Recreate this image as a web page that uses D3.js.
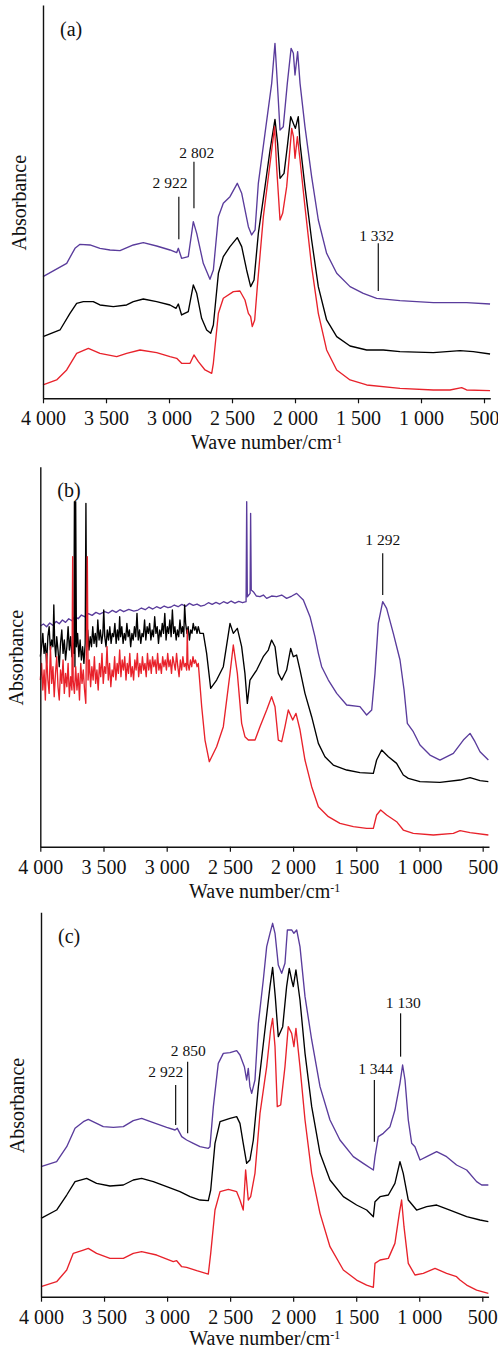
<!DOCTYPE html>
<html>
<head>
<meta charset="utf-8">
<script src="https://cdn.jsdelivr.net/npm/d3@7"></script>
<style>
  html, body { margin: 0; padding: 0; background: #fff; }
  svg { display: block; }
  text { font-family: 'Liberation Serif', 'Times New Roman', serif; fill: #111; }
</style>
</head>
<body>
<svg id="chart" width="498" height="1349"></svg>
<script>
// ---- data: [wave number (cm-1), absorbance (a.u.)] ----

var waveTicks = [4000, 3500, 3000, 2500, 2000, 1500, 1000, 500];
var panelLabels = ['(a)', '(b)', '(c)'];

// (a)
var aPurple = [[4000,0.365],[3812,0.405],[3746,0.45],[3706,0.462],[3627,0.46],[3548,0.45],[3468,0.445],[3389,0.443],[3283,0.46],[3204,0.467],[3098,0.457],[2992,0.445],[2939,0.437],[2926,0.45],[2900,0.42],[2847,0.425],[2807,0.53],[2780,0.495],[2728,0.405],[2675,0.357],[2648,0.385],[2608,0.545],[2569,0.585],[2516,0.605],[2458,0.645],[2423,0.615],[2370,0.515],[2344,0.49],[2317,0.505],[2291,0.645],[2238,0.795],[2185,0.945],[2159,1.065],[2140,0.945],[2119,0.805],[2093,0.815],[2061,0.945],[2031,1.05],[2013,1.035],[2000,0.97],[1979,1.04],[1960,0.945],[1921,0.815],[1868,0.665],[1815,0.535],[1749,0.435],[1669,0.375],[1563,0.335],[1458,0.315],[1352,0.3],[1167,0.293],[902,0.287],[638,0.287],[452,0.283]];
var aBlack = [[4000,0.185],[3865,0.205],[3786,0.255],[3733,0.285],[3680,0.29],[3601,0.29],[3548,0.28],[3442,0.275],[3336,0.28],[3283,0.29],[3204,0.298],[3098,0.29],[2992,0.28],[2944,0.27],[2926,0.283],[2900,0.25],[2847,0.26],[2807,0.34],[2780,0.315],[2741,0.24],[2701,0.205],[2669,0.195],[2648,0.22],[2608,0.375],[2569,0.425],[2516,0.455],[2458,0.482],[2423,0.455],[2384,0.385],[2352,0.335],[2325,0.355],[2291,0.495],[2238,0.635],[2198,0.745],[2159,0.837],[2138,0.765],[2119,0.66],[2087,0.675],[2061,0.755],[2034,0.845],[2008,0.82],[1997,0.81],[1974,0.845],[1960,0.765],[1921,0.635],[1868,0.475],[1815,0.335],[1749,0.235],[1669,0.185],[1563,0.157],[1431,0.145],[1299,0.145],[1167,0.14],[902,0.137],[690,0.143],[585,0.14],[452,0.133]];
var aRed = [[4000,0.04],[3892,0.055],[3812,0.085],[3733,0.135],[3640,0.15],[3548,0.135],[3415,0.125],[3336,0.135],[3230,0.145],[3098,0.137],[2992,0.125],[2939,0.12],[2900,0.105],[2833,0.105],[2802,0.13],[2767,0.11],[2714,0.085],[2661,0.075],[2648,0.105],[2608,0.255],[2569,0.3],[2489,0.32],[2437,0.322],[2397,0.295],[2370,0.255],[2352,0.245],[2339,0.215],[2320,0.235],[2299,0.335],[2251,0.545],[2198,0.705],[2162,0.815],[2146,0.695],[2119,0.535],[2098,0.555],[2066,0.635],[2026,0.81],[2012,0.785],[2000,0.72],[1981,0.785],[1960,0.715],[1921,0.575],[1868,0.395],[1815,0.255],[1749,0.145],[1669,0.085],[1563,0.055],[1431,0.04],[1167,0.03],[902,0.025],[770,0.025],[677,0.032],[638,0.025],[452,0.023]];
var aMarks = [
  { label: '2 922', at: 2922, low: 0.477, high: 0.605, textAt: 2992, textAbs: 0.63 },
  { label: '2 802', at: 2802, low: 0.57, high: 0.71, textAt: 2780, textAbs: 0.722 },
  { label: '1 332', at: 1339, low: 0.322, high: 0.465, textAt: 1352, textAbs: 0.473 }
];

// (b)
var bPurple = [[4000,0.662],[3975,0.668],[3950,0.66],[3925,0.671],[3900,0.664],[3875,0.676],[3850,0.669],[3825,0.68],[3800,0.673],[3775,0.684],[3750,0.678],[3728,0.69],[3700,0.684],[3675,0.695],[3650,0.69],[3620,0.699],[3590,0.694],[3560,0.703],[3530,0.698],[3490,0.705],[3460,0.701],[3430,0.709],[3400,0.703],[3370,0.711],[3340,0.705],[3300,0.712],[3260,0.707],[3227,0.71],[3200,0.716],[3170,0.711],[3140,0.719],[3110,0.713],[3080,0.72],[3050,0.715],[3020,0.722],[2990,0.717],[2966,0.719],[2940,0.725],[2910,0.72],[2880,0.727],[2850,0.721],[2820,0.73],[2790,0.724],[2760,0.728],[2730,0.722],[2699,0.725],[2670,0.732],[2640,0.727],[2610,0.733],[2580,0.728],[2550,0.735],[2520,0.73],[2490,0.737],[2460,0.731],[2430,0.736],[2400,0.732],[2372,0.735],[2367,1.035],[2362,0.75],[2340,0.76],[2336,1.0],[2331,0.77],[2315,0.765],[2290,0.752],[2262,0.75],[2235,0.755],[2209,0.745],[2170,0.752],[2130,0.75],[2090,0.755],[2051,0.745],[2010,0.752],[1972,0.76],[1919,0.74],[1866,0.69],[1827,0.63],[1800,0.58],[1774,0.54],[1721,0.5],[1655,0.46],[1576,0.425],[1471,0.42],[1418,0.395],[1378,0.41],[1352,0.52],[1326,0.67],[1291,0.735],[1260,0.715],[1207,0.64],[1154,0.56],[1122,0.47],[1096,0.37],[1049,0.345],[996,0.305],[917,0.275],[838,0.26],[732,0.28],[653,0.32],[600,0.34],[561,0.315],[521,0.285],[455,0.26]];
var bBlack = [[4000,0.57],[3990,0.6],[3980,0.64],[3970,0.58],[3960,0.61],[3950,0.55],[3940,0.63],[3930,0.66],[3920,0.59],[3910,0.62],[3900,0.6],[3893,0.725],[3886,0.61],[3878,0.57],[3870,0.63],[3860,0.59],[3850,0.54],[3840,0.61],[3830,0.65],[3820,0.58],[3810,0.62],[3800,0.56],[3790,0.6],[3780,0.66],[3770,0.59],[3760,0.63],[3750,0.57],[3740,0.61],[3735,0.58],[3730,1.035],[3726,0.54],[3720,1.035],[3714,0.6],[3705,0.64],[3695,0.57],[3685,0.62],[3675,0.56],[3665,0.6],[3655,0.55],[3645,0.61],[3639,1.03],[3633,0.6],[3625,0.65],[3615,0.59],[3605,0.63],[3595,0.6],[3585,0.66],[3575,0.61],[3565,0.64],[3555,0.6],[3545,0.68],[3535,0.62],[3525,0.65],[3515,0.61],[3505,0.64],[3498,0.71],[3490,0.63],[3480,0.6],[3470,0.65],[3460,0.62],[3450,0.66],[3440,0.61],[3430,0.64],[3420,0.63],[3410,0.67],[3400,0.61],[3390,0.65],[3380,0.62],[3372,0.69],[3365,0.63],[3355,0.66],[3345,0.61],[3335,0.64],[3325,0.62],[3315,0.67],[3305,0.63],[3295,0.65],[3285,0.6],[3275,0.64],[3265,0.62],[3255,0.66],[3245,0.63],[3235,0.7],[3225,0.62],[3215,0.65],[3205,0.61],[3195,0.64],[3185,0.63],[3175,0.68],[3165,0.62],[3155,0.66],[3145,0.64],[3135,0.67],[3125,0.62],[3115,0.65],[3105,0.63],[3095,0.69],[3085,0.64],[3075,0.66],[3065,0.61],[3055,0.65],[3045,0.63],[3035,0.67],[3025,0.64],[3015,0.7],[3005,0.62],[2995,0.66],[2985,0.64],[2975,0.68],[2965,0.63],[2955,0.71],[2945,0.64],[2935,0.66],[2925,0.62],[2915,0.65],[2905,0.63],[2895,0.68],[2885,0.64],[2875,0.66],[2865,0.63],[2858,0.725],[2850,0.67],[2840,0.64],[2830,0.66],[2820,0.62],[2810,0.65],[2800,0.64],[2790,0.67],[2780,0.65],[2770,0.66],[2760,0.64],[2750,0.66],[2737,0.64],[2710,0.64],[2684,0.58],[2652,0.475],[2605,0.5],[2552,0.54],[2499,0.67],[2473,0.64],[2441,0.655],[2407,0.6],[2381,0.52],[2362,0.43],[2341,0.5],[2288,0.53],[2236,0.57],[2196,0.59],[2170,0.62],[2143,0.6],[2117,0.52],[2090,0.5],[2051,0.53],[2019,0.595],[1998,0.57],[1972,0.575],[1945,0.53],[1906,0.46],[1853,0.39],[1800,0.31],[1748,0.27],[1682,0.245],[1576,0.23],[1471,0.222],[1365,0.22],[1339,0.26],[1299,0.29],[1246,0.27],[1181,0.25],[1128,0.215],[1088,0.205],[996,0.195],[838,0.193],[679,0.2],[600,0.207],[521,0.198],[455,0.195]];
var bRed = [[4000,0.5],[3990,0.55],[3980,0.47],[3970,0.53],[3960,0.44],[3950,0.58],[3940,0.5],[3930,0.46],[3920,0.6],[3910,0.49],[3900,0.54],[3890,0.45],[3880,0.52],[3870,0.57],[3860,0.48],[3850,0.44],[3840,0.53],[3830,0.49],[3820,0.56],[3810,0.46],[3800,0.52],[3790,0.48],[3780,0.55],[3770,0.45],[3760,0.51],[3750,0.47],[3744,0.87],[3740,0.5],[3730,0.46],[3720,0.54],[3710,0.47],[3700,0.52],[3690,0.44],[3680,0.55],[3670,0.49],[3660,0.53],[3650,0.47],[3640,0.43],[3628,0.87],[3622,0.5],[3612,0.56],[3602,0.48],[3592,0.54],[3582,0.5],[3572,0.57],[3562,0.49],[3552,0.53],[3542,0.47],[3532,0.55],[3522,0.51],[3512,0.58],[3502,0.49],[3492,0.54],[3482,0.52],[3472,0.6],[3462,0.5],[3452,0.55],[3442,0.48],[3432,0.53],[3422,0.51],[3412,0.57],[3402,0.5],[3392,0.55],[3382,0.52],[3372,0.59],[3362,0.51],[3352,0.56],[3342,0.53],[3332,0.57],[3322,0.5],[3312,0.55],[3302,0.52],[3292,0.58],[3282,0.51],[3272,0.54],[3262,0.5],[3252,0.56],[3242,0.53],[3232,0.58],[3222,0.51],[3212,0.55],[3202,0.52],[3192,0.57],[3182,0.53],[3172,0.55],[3162,0.51],[3152,0.58],[3142,0.53],[3132,0.56],[3122,0.52],[3112,0.57],[3102,0.54],[3092,0.56],[3082,0.52],[3072,0.58],[3062,0.53],[3052,0.55],[3042,0.52],[3032,0.57],[3022,0.54],[3012,0.56],[3002,0.53],[2992,0.58],[2982,0.54],[2972,0.56],[2962,0.52],[2952,0.57],[2942,0.55],[2932,0.53],[2922,0.58],[2912,0.54],[2902,0.51],[2892,0.56],[2882,0.53],[2872,0.57],[2862,0.54],[2852,0.55],[2842,0.53],[2837,0.65],[2832,0.55],[2822,0.53],[2812,0.56],[2802,0.54],[2792,0.57],[2782,0.55],[2772,0.56],[2760,0.54],[2750,0.55],[2723,0.42],[2697,0.32],[2663,0.255],[2605,0.3],[2552,0.36],[2499,0.52],[2473,0.605],[2441,0.52],[2407,0.37],[2381,0.33],[2354,0.32],[2301,0.32],[2262,0.36],[2209,0.41],[2170,0.45],[2143,0.42],[2117,0.32],[2090,0.315],[2064,0.36],[2038,0.41],[2003,0.38],[1977,0.4],[1945,0.35],[1906,0.26],[1853,0.18],[1800,0.12],[1721,0.09],[1629,0.07],[1523,0.06],[1418,0.055],[1365,0.055],[1339,0.095],[1307,0.11],[1260,0.095],[1181,0.075],[1128,0.05],[1049,0.04],[890,0.035],[732,0.04],[679,0.048],[600,0.042],[455,0.035]];
var bMarks = [
  { label: '1 292', at: 1291, low: 0.755, high: 0.88, textAt: 1291, textAbs: 0.905 }
];

// (c)
var cPurple = [[4000,0.39],[3876,0.405],[3796,0.45],[3730,0.505],[3664,0.525],[3625,0.532],[3559,0.52],[3506,0.51],[3426,0.508],[3347,0.51],[3268,0.528],[3202,0.535],[3109,0.522],[3003,0.508],[2937,0.5],[2919,0.505],[2884,0.48],[2845,0.47],[2792,0.46],[2739,0.45],[2673,0.445],[2660,0.45],[2633,0.57],[2594,0.7],[2554,0.73],[2501,0.732],[2448,0.738],[2422,0.725],[2387,0.69],[2369,0.65],[2356,0.685],[2343,0.63],[2329,0.61],[2303,0.65],[2276,0.82],[2237,0.95],[2210,1.05],[2184,1.09],[2163,1.12],[2144,1.09],[2118,0.995],[2091,0.97],[2065,1.0],[2046,1.1],[2012,1.1],[1994,1.09],[1972,1.1],[1946,1.05],[1906,0.9],[1853,0.77],[1787,0.63],[1708,0.53],[1629,0.47],[1523,0.42],[1444,0.4],[1364,0.38],[1351,0.42],[1325,0.48],[1285,0.49],[1232,0.51],[1193,0.56],[1153,0.64],[1132,0.695],[1113,0.65],[1087,0.53],[1060,0.46],[1034,0.45],[994,0.41],[941,0.42],[862,0.435],[783,0.42],[704,0.395],[624,0.38],[545,0.345],[505,0.335],[452,0.335]];
var cBlack = [[4000,0.235],[3876,0.26],[3796,0.305],[3730,0.345],[3638,0.355],[3559,0.34],[3453,0.332],[3347,0.335],[3268,0.35],[3202,0.355],[3109,0.345],[3003,0.33],[2898,0.315],[2818,0.3],[2739,0.29],[2673,0.288],[2654,0.32],[2620,0.46],[2580,0.525],[2501,0.535],[2448,0.54],[2422,0.52],[2396,0.46],[2369,0.4],[2343,0.41],[2316,0.47],[2276,0.63],[2224,0.8],[2184,0.93],[2163,0.988],[2142,0.9],[2118,0.78],[2083,0.81],[2052,0.93],[2031,0.985],[2012,0.95],[1999,0.93],[1978,0.98],[1946,0.89],[1906,0.73],[1853,0.57],[1787,0.43],[1708,0.35],[1602,0.3],[1497,0.275],[1417,0.26],[1364,0.24],[1351,0.285],[1311,0.3],[1245,0.305],[1193,0.34],[1153,0.405],[1127,0.37],[1087,0.29],[1021,0.26],[941,0.27],[862,0.275],[757,0.26],[624,0.24],[518,0.23],[452,0.225]];
var cRed = [[4000,0.03],[3876,0.045],[3796,0.08],[3744,0.13],[3664,0.14],[3625,0.145],[3559,0.13],[3453,0.115],[3347,0.115],[3268,0.13],[3202,0.135],[3083,0.125],[2951,0.105],[2924,0.108],[2884,0.09],[2845,0.088],[2765,0.078],[2673,0.068],[2654,0.13],[2620,0.26],[2580,0.315],[2514,0.322],[2448,0.315],[2422,0.29],[2396,0.26],[2377,0.38],[2356,0.29],[2337,0.3],[2303,0.37],[2263,0.55],[2210,0.69],[2179,0.8],[2163,0.835],[2144,0.75],[2126,0.57],[2099,0.575],[2065,0.69],[2039,0.81],[2012,0.79],[1994,0.75],[1978,0.805],[1946,0.69],[1906,0.53],[1853,0.37],[1787,0.25],[1708,0.15],[1602,0.08],[1497,0.05],[1417,0.035],[1364,0.028],[1351,0.1],[1311,0.11],[1245,0.115],[1193,0.16],[1158,0.25],[1140,0.29],[1121,0.21],[1087,0.1],[1034,0.065],[968,0.07],[875,0.085],[783,0.07],[704,0.06],[677,0.05],[624,0.035],[545,0.02],[452,0.01]];
var cMarks = [
  { label: '2 922', at: 2932, low: 0.515, high: 0.635, textAt: 3011, textAbs: 0.658 },
  { label: '2 850', at: 2837, low: 0.49, high: 0.705, textAt: 2832, textAbs: 0.723 },
  { label: '1 344', at: 1356, low: 0.465, high: 0.65, textAt: 1346, textAbs: 0.668 },
  { label: '1 130', at: 1148, low: 0.72, high: 0.85, textAt: 1127, textAbs: 0.865 }
];

// ---- layout ----

var colors = { purple: '#5a3c9c', black: '#000000', red: '#e8222b' };

var panels = [
  { label: panelLabels[0], left: 43, right: 490.3, top: 5, bottom: 398.3, yMax: 1.18, titleGap: 51,
    series: [[aPurple, colors.purple], [aBlack, colors.black], [aRed, colors.red]], marks: aMarks },
  { label: panelLabels[1], left: 40.3, right: 489, top: 466.7, bottom: 846.7, yMax: 1.14, titleGap: 51,
    series: [[bPurple, colors.purple], [bBlack, colors.black], [bRed, colors.red]], marks: bMarks },
  { label: panelLabels[2], left: 41, right: 488.6, top: 912.3, bottom: 1296.7, yMax: 1.153, titleGap: 48.5,
    series: [[cPurple, colors.purple], [cBlack, colors.black], [cRed, colors.red]], marks: cMarks }
];

var svg = d3.select('#chart');

panels.forEach(drawPanel);

function tickText(d) {
  return d3.format(',')(d).replace(',', ' ');
}

function drawPanel(p) {
  var x = d3.scaleLinear().domain([4000, 450]).range([p.left, p.right]);
  var y = d3.scaleLinear().domain([0, p.yMax]).range([p.bottom, p.top]);
  var g = svg.append('g');

  var line = d3.line()
    .x(function(d) { return x(d[0]); })
    .y(function(d) { return y(d[1]); });

  // spectra
  p.series.forEach(function(s) {
    g.append('path')
      .datum(s[0])
      .attr('d', line)
      .attr('fill', 'none')
      .attr('stroke', s[1])
      .attr('stroke-width', 1.35)
      .attr('stroke-linejoin', 'round');
  });

  // axes
  var xAxis = d3.axisBottom(x)
    .tickValues(waveTicks)
    .tickFormat(tickText)
    .tickSize(5)
    .tickSizeOuter(0)
    .tickPadding(8);

  var gx = g.append('g')
    .attr('transform', 'translate(0,' + p.bottom + ')')
    .call(xAxis);
  gx.select('.domain').attr('stroke', '#111').attr('stroke-width', 1.4);
  gx.selectAll('.tick line').attr('stroke', '#111').attr('stroke-width', 1.2);
  gx.selectAll('.tick text')
    .attr('font-family', "'Liberation Serif', 'Times New Roman', serif")
    .attr('font-size', 20)
    .attr('fill', '#111');

  var gy = g.append('g')
    .attr('transform', 'translate(' + p.left + ',0)')
    .call(d3.axisLeft(y).tickValues([]).tickSizeOuter(0));
  gy.select('.domain').attr('stroke', '#111').attr('stroke-width', 1.4);

  // axis titles
  var title = g.append('text')
    .attr('x', (p.left + p.right) / 2)
    .attr('y', p.bottom + p.titleGap)
    .attr('text-anchor', 'middle')
    .attr('font-size', 20);
  title.append('tspan').text('Wave number/cm');
  title.append('tspan').attr('dy', -6).attr('font-size', 12).text('-1');

  g.append('text')
    .attr('transform', 'translate(' + (p.left - 17.5) + ',' + ((p.top + p.bottom) / 2 + 1) + ') rotate(-90)')
    .attr('text-anchor', 'middle')
    .attr('font-size', 20)
    .text('Absorbance');

  g.append('text')
    .attr('x', p.left + 17)
    .attr('y', p.top + 30.5)
    .attr('font-size', 20)
    .text(p.label);

  // peak marks
  p.marks.forEach(function(m) {
    g.append('line')
      .attr('x1', x(m.at)).attr('x2', x(m.at))
      .attr('y1', y(m.low)).attr('y2', y(m.high))
      .attr('stroke', '#111')
      .attr('stroke-width', 1.2);
    g.append('text')
      .attr('x', x(m.textAt))
      .attr('y', y(m.textAbs))
      .attr('text-anchor', 'middle')
      .attr('font-size', 15.5)
      .text(m.label);
  });
}
</script>
</body>
</html>
